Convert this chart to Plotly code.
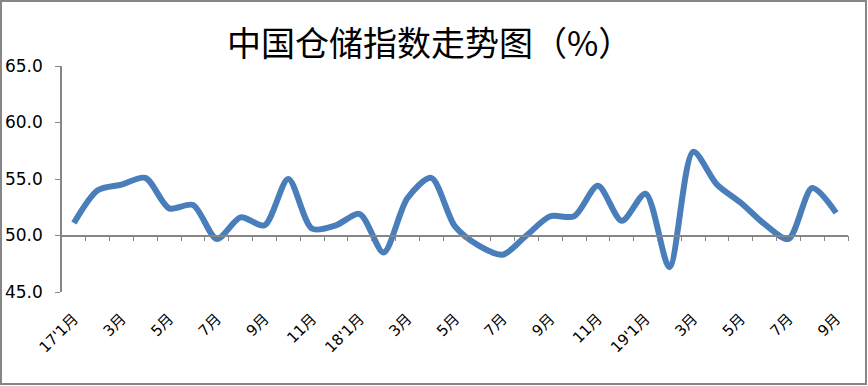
import plotly.graph_objects as go

months = ["17'1月", "2月", "3月", "4月", "5月", "6月", "7月", "8月", "9月", "10月", "11月", "12月",
          "18'1月", "2月", "3月", "4月", "5月", "6月", "7月", "8月", "9月", "10月", "11月", "12月",
          "19'1月", "2月", "3月", "4月", "5月", "6月", "7月", "8月", "9月"]
values = [51.1, 54.0, 54.5, 55.1, 52.4, 52.7, 49.7, 51.6, 50.9, 55.0, 50.6, 50.9,
          51.9, 48.5, 53.3, 55.1, 50.8, 49.1, 48.3, 50.0, 51.7, 51.7, 54.4, 51.3,
          53.7, 47.2, 57.4, 54.5, 52.9, 51.0, 49.7, 54.2, 52.0]
y_ticks = [45.0, 50.0, 55.0, 60.0, 65.0]

idx = list(range(len(months)))
label_idx = idx[::2]
label_text = [months[i] for i in label_idx]
boundaries = [i + 0.5 for i in idx]

W, H = 868, 386
ml, mr, mt, mb = 62, 20, 66, 94
pw, ph = W - ml - mr, H - mt - mb

fig = go.Figure()
fig.add_trace(go.Scatter(
    x=idx, y=values, mode="lines",
    line=dict(color="#4a7ebb", width=6, shape="spline", smoothing=0.8),
    hoverinfo="skip", showlegend=False, xaxis="x", yaxis="y"))
fig.add_trace(go.Scatter(
    x=idx, y=values, mode="lines", line=dict(color="rgba(0,0,0,0)", width=0),
    hoverinfo="skip", showlegend=False, xaxis="x2", yaxis="y"))

axis_gray = "#868686"
xr = [-0.5, len(months) - 0.5]
fig.update_layout(
    width=W, height=H,
    margin=dict(l=ml, r=mr, t=mt, b=mb, autoexpand=False),
    paper_bgcolor="white", plot_bgcolor="white",
    title=dict(text="中国仓储指数走势图（%）", x=0.495, xref="container", xanchor="center",
               y=1 - 44 / H, yref="container", yanchor="middle", automargin=False,
               font=dict(family="Noto Sans CJK SC", size=34, color="#000000")),
    xaxis=dict(range=xr, anchor="free", position=(50 - 45) / 20, automargin=False,
               showline=True, linecolor=axis_gray, linewidth=1.5,
               tickmode="array", tickvals=boundaries, ticks="outside", ticklen=5,
               tickcolor=axis_gray, tickwidth=1, showticklabels=False,
               showgrid=False, zeroline=False, fixedrange=True),
    xaxis2=dict(range=xr, overlaying="x", anchor="y", side="bottom", automargin=False,
                showline=False, ticks="", tickmode="array", tickvals=label_idx,
                ticktext=label_text, tickangle=-45, ticklabelstandoff=14,
                tickfont=dict(family="DejaVu Sans, Noto Sans CJK SC", size=15, color="#000000"),
                showgrid=False, zeroline=False, fixedrange=True),
    yaxis=dict(range=[45, 65], tickmode="array", tickvals=y_ticks, tickformat=".1f",
               automargin=False,
               showline=True, linecolor=axis_gray, linewidth=1.5,
               ticks="outside", ticklen=5, tickcolor=axis_gray, tickwidth=1,
               ticklabelstandoff=9,
               tickfont=dict(family="DejaVu Sans", size=17, color="#000000"),
               showgrid=False, zeroline=False, fixedrange=True),
)

# outer chart frame
fig.add_shape(type="rect", xref="paper", yref="paper",
              x0=(1 - ml) / pw, x1=(W - 2 - ml) / pw,
              y0=(H - mb - (H - 2)) / ph, y1=(H - mb - 1) / ph,
              line=dict(color=axis_gray, width=2), fillcolor="rgba(0,0,0,0)", layer="below")

fig.write_html("out.html", config={"displayModeBar": False},
               post_script="document.body.style.margin='0';document.body.style.overflow='hidden';")
